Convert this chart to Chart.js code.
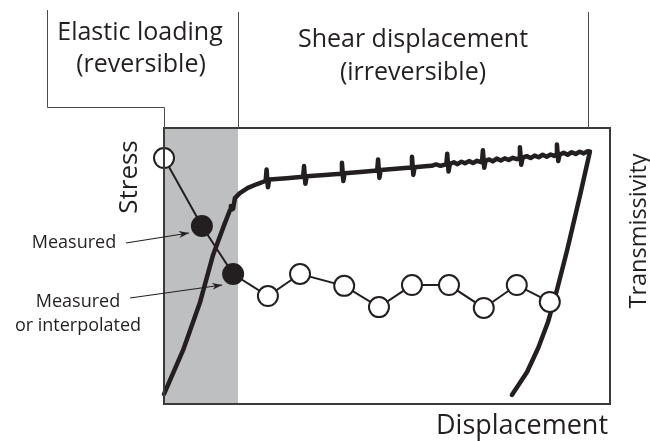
<!DOCTYPE html>
<html>
<head>
<meta charset="utf-8">
<script src="https://cdn.jsdelivr.net/npm/chart.js@4/dist/chart.umd.min.js"></script>
<style>
  html, body { margin: 0; padding: 0; background: #fff; }
  #wrap { width: 650px; height: 441px; position: relative; }
</style>
</head>
<body>
<div id="wrap"><canvas id="c"></canvas></div>
<script>
// Displacement / stress / transmissivity schematic (arbitrary units, 0-100)

// Phase boundaries along displacement
const elasticEnd = 16.6;   // end of elastic (reversible) loading
const shearEnd = 95.1;     // end of shear (irreversible) displacement

// Transmissivity samples
const transX = [0, 8.5, 15.5, 23.3, 30.5, 40.4, 48.2, 55.6, 63.9, 71.7, 79.1, 86.5];
const transY = [89.1, 64.5, 47.1, 39.1, 47.1, 42.8, 35.1, 43.1, 43.1, 34.8, 43.1, 37.0];
// 'm' = measured (filled), 'o' = measured or interpolated (open)
const transKind = ['o', 'm', 'm', 'o', 'o', 'o', 'o', 'o', 'o', 'o', 'o', 'o'];

// Stress: loading, stick-slip shear and unloading trace
const stressX = [
  0, 4.3, 8.1, 11.0, 13.5, 14.8, 15.0, 15.5, 15.9, 17.0, 18.8, 20.9, 22.7,
  22.8, 23.0, 23.3, 23.6, 27.5,
  31.2, 31.4, 31.7, 32.0, 36.0,
  39.7, 39.9, 40.2, 40.5, 44.0,
  47.8, 48.0, 48.3, 48.6, 52.0,
  55.4, 55.6, 55.9, 56.2, 58.5, 60.0, 61.0, 62.0,
  63.3, 63.5, 63.8, 64.1, 65.0, 65.8, 66.7, 67.5, 68.4, 69.3, 70.2, 71.1,
  71.3, 71.5, 71.8, 72.1, 72.9, 73.7, 74.6, 75.5, 76.4, 77.3, 78.2, 79.1,
  79.6, 79.8, 80.1, 80.4, 81.3, 82.2, 83.1, 84.0, 84.9, 85.8, 86.7, 87.5,
  87.9, 88.1, 88.4, 88.7, 89.6, 90.5, 91.4, 92.3, 93.2, 94.1, 95.0, 95.5,
  93.3, 90.4, 88.1, 86.1, 83.9, 81.4, 78.0
];
const stressY = [
  3.6, 19.6, 37.0, 54.0, 64.9, 70.3, 71.7, 70.7, 74.6, 76.4, 78.3, 79.7, 80.8,
  81.1, 85.0, 78.5, 81.3, 81.8,
  82.3, 86.2, 79.8, 82.5, 83.0,
  83.4, 87.4, 80.8, 83.6, 84.1,
  84.6, 88.6, 81.9, 84.8, 85.2,
  85.7, 89.6, 83.0, 85.8, 86.1, 86.3, 86.8, 86.3,
  86.8, 90.7, 84.2, 87.0, 87.6, 86.9, 87.8, 87.2, 88.0, 87.3, 88.1, 87.6,
  87.9, 91.9, 85.6, 88.1, 88.6, 87.9, 88.9, 88.2, 89.0, 88.4, 89.2, 88.7,
  89.1, 93.0, 86.7, 89.2, 89.8, 89.1, 90.0, 89.4, 90.3, 89.6, 90.4, 89.9,
  90.3, 94.0, 88.0, 90.4, 91.0, 90.3, 91.2, 90.6, 91.4, 90.8, 91.6, 91.5,
  75.7, 55.8, 41.3, 29.7, 20.3, 11.6, 3.3
];

const ink = '#231f20';
const FONT = '"Open Sans", "Noto Sans", sans-serif';

const transData = transX.map((x, i) => ({ x, y: transY[i] }));
const stressData = stressX.map((x, i) => ({ x, y: stressY[i] }));

// Shaded elastic zone behind the data
const elasticZone = {
  id: 'elasticZone',
  beforeDatasetsDraw(chart) {
    const { ctx, chartArea: a, scales: { x } } = chart;
    const x0 = x.getPixelForValue(0), x1 = x.getPixelForValue(elasticEnd);
    ctx.save();
    ctx.fillStyle = '#bebfc1';
    ctx.fillRect(x0, a.top, x1 - x0, a.bottom - a.top);
    ctx.restore();
  }
};

// Plot frame, phase brackets and annotations
const frameAndText = {
  id: 'frameAndText',
  afterDraw(chart) {
    const { ctx, chartArea: a, scales: { x, y } } = chart;
    const xe = x.getPixelForValue(elasticEnd);
    const xs = x.getPixelForValue(shearEnd);
    ctx.save();

    // frame
    ctx.strokeStyle = '#3a3a3a';
    ctx.lineWidth = 2;
    ctx.strokeRect(a.left, a.top, a.right - a.left, a.bottom - a.top);

    // phase bracket lines
    ctx.strokeStyle = '#4a4a4a';
    ctx.lineWidth = 1;
    ctx.beginPath();
    ctx.moveTo(47.5, 10);
    ctx.lineTo(47.5, 107.5);
    ctx.lineTo(a.left + 0.5, 107.5);
    ctx.lineTo(a.left + 0.5, a.top);
    ctx.moveTo(Math.round(xe) + 0.5, 12);
    ctx.lineTo(Math.round(xe) + 0.5, a.top);
    ctx.moveTo(Math.round(xs) + 0.5, 12);
    ctx.lineTo(Math.round(xs) + 0.5, a.top);
    ctx.stroke();

    // phase titles
    ctx.fillStyle = ink;
    ctx.textAlign = 'center';
    ctx.textBaseline = 'middle';
    ctx.font = '25px ' + FONT;
    ctx.fillText('Elastic loading', 140, 33);
    ctx.fillText('(reversible)', 141, 65);
    ctx.fillText('Shear displacement', 413, 40);
    ctx.fillText('(irreversible)', 413, 73);

    // axis titles
    ctx.font = '27px ' + FONT;
    ctx.fillText('Displacement', 522, 426);
    ctx.save();
    ctx.translate(130, 177);
    ctx.rotate(-Math.PI / 2);
    ctx.font = '26px ' + FONT;
    ctx.fillText('Stress', 0, 0);
    ctx.restore();
    ctx.save();
    ctx.translate(639, 231);
    ctx.rotate(-Math.PI / 2);
    ctx.font = '23.5px ' + FONT;
    ctx.fillText('Transmissivity', 0, 0);
    ctx.restore();

    // point annotations
    ctx.font = '18px ' + FONT;
    ctx.fillText('Measured', 74, 243);
    ctx.fillText('Measured', 78, 302);
    ctx.fillText('or interpolated', 78, 326);

    const arrow = (fx, fy, tx, ty) => {
      ctx.strokeStyle = ink;
      ctx.fillStyle = ink;
      ctx.lineWidth = 1.2;
      ctx.beginPath();
      ctx.moveTo(fx, fy);
      ctx.lineTo(tx, ty);
      ctx.stroke();
      const ang = Math.atan2(ty - fy, tx - fx);
      const L = 10, W = 3.5;
      ctx.beginPath();
      ctx.moveTo(tx, ty);
      ctx.lineTo(tx - L * Math.cos(ang) + W * Math.sin(ang), ty - L * Math.sin(ang) - W * Math.cos(ang));
      ctx.lineTo(tx - 0.7 * L * Math.cos(ang), ty - 0.7 * L * Math.sin(ang));
      ctx.lineTo(tx - L * Math.cos(ang) - W * Math.sin(ang), ty - L * Math.sin(ang) + W * Math.cos(ang));
      ctx.closePath();
      ctx.fill();
    };
    const p1 = { x: x.getPixelForValue(transX[1]), y: y.getPixelForValue(transY[1]) };
    const p2 = { x: x.getPixelForValue(transX[2]), y: y.getPixelForValue(transY[2]) };
    arrow(126, 243, p1.x - 13, p1.y + 7);
    arrow(130, 298, p2.x - 11, p2.y + 11);

    ctx.restore();
  }
};

new Chart(document.getElementById('c'), {
  type: 'scatter',
  data: {
    datasets: [
      {
        label: 'Transmissivity',
        data: transData,
        showLine: true,
        borderColor: ink,
        borderWidth: 2,
        pointRadius: 10,
        pointBorderWidth: 2,
        pointBorderColor: ink,
        pointBackgroundColor: transKind.map(k => k === 'm' ? ink : '#ffffff'),
        clip: false
      },
      {
        label: 'Stress',
        data: stressData,
        showLine: true,
        borderColor: ink,
        borderWidth: 4.5,
        borderCapStyle: 'round',
        borderJoinStyle: 'round',
        pointRadius: 0,
        tension: 0,
        clip: false
      }
    ]
  },
  options: {
    responsive: true,
    maintainAspectRatio: false,
    animation: false,
    layout: { padding: { left: 164, top: 128, right: 40, bottom: 37 } },
    plugins: { legend: { display: false }, tooltip: { enabled: false } },
    scales: {
      x: { type: 'linear', min: 0, max: 100, display: false },
      y: { type: 'linear', min: 0, max: 100, display: false }
    }
  },
  plugins: [elasticZone, frameAndText]
});
</script>
</body>
</html>
